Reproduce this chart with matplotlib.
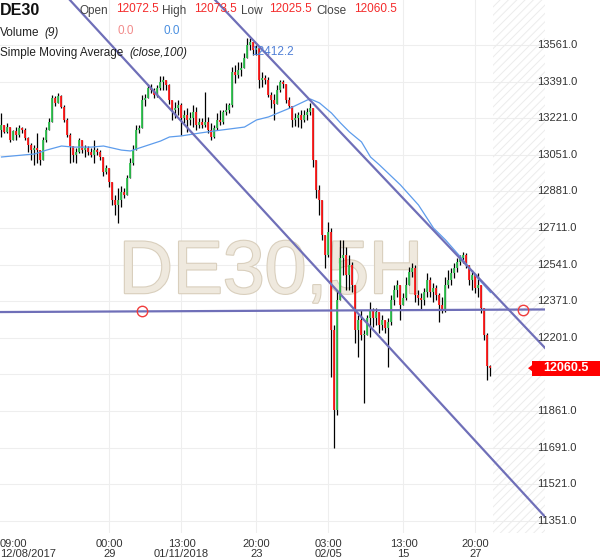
import numpy as np
import matplotlib.pyplot as plt
import matplotlib.patheffects as pe
from matplotlib.patches import Rectangle, Polygon

plt.rcParams['font.family'] = ['Liberation Sans', 'DejaVu Sans']
plt.rcParams['hatch.linewidth'] = 0.7

# DE30 5H candles (oldest first)
first_open = 13166
closes = [
    13190, 13157, 13180, 13120, 13162, 13143, 13176, 13166, 13129, 13097,
    13073, 13083, 13073, 13027, 13120, 13166, 13204, 13315, 13292, 13324,
    13273, 13213, 13143, 13092, 13050, 13064, 13120, 13073, 13083, 13064,
    13050, 13073, 13064, 13041, 12971, 12990, 12925, 12841, 12818, 12841,
    12879, 12865, 12944, 13013, 13073, 13166, 13176, 13306, 13315, 13361,
    13352, 13329, 13361, 13389, 13399, 13375, 13306, 13259, 13269, 13282,
    13222, 13236, 13213, 13222, 13250, 13190, 13204, 13190, 13204, 13166,
    13134, 13176, 13213, 13204, 13250, 13259, 13282, 13436, 13422, 13445,
    13454, 13501, 13561, 13575, 13538, 13547, 13399, 13408, 13399, 13329,
    13306, 13287, 13352, 13389, 13380, 13306, 13278, 13213, 13222, 13236,
    13213, 13236, 13250, 13269, 13027, 12888, 12841, 12679, 12586, 12693,
    12238, 11866, 12377, 12572, 12586, 12493, 12540, 12447, 12238, 12284,
    12215, 12215, 12294, 12331, 12294, 12321, 12261, 12284, 12247, 12275,
    12377, 12424, 12447, 12354, 12386, 12447, 12507, 12526, 12400, 12386,
    12377, 12414, 12470, 12414, 12433, 12400, 12354, 12331, 12447, 12470,
    12503, 12526, 12554, 12572, 12586, 12540, 12470, 12493, 12433, 12447,
    12340, 12215, 12072.5, 12060.5]
highs = [
    13245, 13180, 13199, 13176, 13166, 13180, 13190, 13180, 13176, 13134,
    13106, 13097, 13152, 13073, 13134, 13180, 13222, 13329, 13324, 13338,
    13329, 13282, 13222, 13152, 13092, 13083, 13129, 13120, 13097, 13092,
    13083, 13120, 13083, 13073, 13041, 13004, 12990, 12911, 12865, 12897,
    12906, 12897, 12957, 13036, 13097, 13190, 13190, 13329, 13334, 13380,
    13380, 13361, 13375, 13417, 13417, 13399, 13380, 13306, 13296, 13306,
    13292, 13259, 13269, 13250, 13282, 13273, 13222, 13222, 13343, 13227,
    13199, 13190, 13245, 13259, 13259, 13292, 13292, 13459, 13468, 13482,
    13482, 13524, 13594, 13594, 13570, 13561, 13538, 13436, 13422, 13412,
    13343, 13334, 13375, 13399, 13399, 13380, 13320, 13269, 13245, 13250,
    13259, 13259, 13269, 13292, 13269, 13013, 12911, 12841, 12642, 12739,
    12711, 12261, 12424, 12656, 12656, 12623, 12586, 12554, 12447, 12308,
    12331, 12238, 12308, 12368, 12340, 12340, 12317, 12308, 12275, 12294,
    12400, 12447, 12470, 12437, 12410, 12484, 12530, 12549, 12540, 12424,
    12410, 12433, 12503, 12484, 12456, 12447, 12410, 12391, 12484, 12516,
    12526, 12549, 12572, 12586, 12600, 12595, 12540, 12516, 12479, 12503,
    12410, 12340, 12224, 12073.5]
lows = [
    13134, 13152, 13152, 13111, 13143, 13120, 13134, 13152, 13120, 13064,
    13027, 13004, 13013, 13004, 13027, 13111, 13166, 13204, 13278, 13292,
    13269, 13204, 13134, 13013, 13018, 13013, 13060, 13060, 13041, 13050,
    13041, 13013, 13050, 13027, 12953, 12962, 12902, 12818, 12772, 12735,
    12809, 12851, 12888, 12971, 13004, 13097, 13152, 13176, 13278, 13329,
    13338, 13315, 13320, 13352, 13352, 13352, 13287, 13213, 13222, 13236,
    13143, 13199, 13157, 13190, 13180, 13166, 13176, 13176, 13180, 13152,
    13120, 13129, 13166, 13190, 13194, 13236, 13245, 13273, 13385, 13408,
    13417, 13477, 13505, 13538, 13515, 13515, 13361, 13366, 13380, 13320,
    13269, 13213, 13306, 13343, 13361, 13292, 13269, 13180, 13185, 13180,
    13176, 13204, 13213, 13236, 12995, 12851, 12772, 12656, 12526, 12577,
    12020, 11690, 11843, 12377, 12493, 12424, 12424, 12414, 12178, 12112,
    12191, 11899, 12215, 12205, 12252, 12261, 12224, 12238, 12224, 12066,
    12261, 12354, 12391, 12284, 12354, 12377, 12447, 12484, 12368, 12354,
    12331, 12354, 12391, 12391, 12368, 12377, 12275, 12317, 12321, 12433,
    12447, 12479, 12507, 12540, 12549, 12526, 12447, 12424, 12410, 12391,
    12317, 12191, 12006, 12025.5]

# simple moving average (100), sampled along the curve
ma_idx = [0, 11, 15, 20, 24, 30, 34, 40, 43, 46, 53, 56, 60, 66, 71, 76, 81,
          85, 89, 93, 97, 102, 103, 106, 110, 113, 116, 120, 123, 126, 133,
          139, 144, 148, 153, 158, 163]
ma_vals = [13041, 13055, 13073, 13092, 13087, 13087, 13092, 13073, 13069,
           13083, 13115, 13134, 13139, 13152, 13162, 13171, 13180, 13213,
           13227, 13250, 13273, 13306, 13310, 13292, 13245, 13199, 13157,
           13111, 13041, 13004, 12911, 12818, 12711, 12656, 12577, 12490,
           12412]

# drawn tools: two channel lines and a horizontal level
chan_low_x, chan_low_y = [22.8, 181.2], [13770, 11370]
chan_high_x, chan_high_y = [71.2, 181.2], [13770, 12154]
level_x, level_y = [-0.5, 181.2], [12321, 12333]
marker_x = [46.8, 173.8]

price_ticks = [13561, 13391, 13221, 13051, 12881, 12711, 12541, 12371,
               12201, 12031, 11861, 11691, 11521, 11351]
time_idx = [-0.5, 36, 60, 85, 109, 134, 158]
time_labels = ['09:00\n12/08/2017', '00:00\n29', '13:00\n01/11/2018',
               '20:00\n23', '03:00\n02/05', '13:00\n15', '20:00\n27']

W, H = 600, 558
fig = plt.figure(figsize=(W / 100, H / 100), dpi=100)
ax = fig.add_axes([0, 25 / H, 545 / W, 533 / H])
ax.set_xlim(-0.5, 181.17)
ax.set_ylim(11295, 13770)
ax.set_xticks([])
ax.set_yticks([])
for s in ax.spines.values():
    s.set_visible(False)

# grid
for p in price_ticks:
    ax.axhline(p, color='#eeeeee', lw=0.8, zorder=0)
for t in time_idx[1:]:
    ax.axvline(t, color='#eeeeee', lw=0.8, zorder=0)

# future zone
ax.axvspan(163.8, 181.17, facecolor='none', edgecolor='#ececec',
           hatch='////', lw=0, zorder=0)

# watermark
ax.text(0.497, 0.45, 'DE30,5H', transform=ax.transAxes, ha='center',
        va='baseline', fontsize=54, color='#efe9de', zorder=1,
        path_effects=[pe.withStroke(linewidth=1.6, foreground='#d9cfbd')])

# SMA value label in the header row
fig.text(251 / W, 1 - 55 / H, '12412.2', color='#4f7fd6', fontsize=8.5,
         va='baseline', zorder=1)

# candles
closes = np.array(closes, dtype=float)
opens = np.concatenate([[first_open], closes[:-1]])
highs = np.maximum.reduce([np.array(highs, dtype=float), opens, closes])
lows = np.minimum.reduce([np.array(lows, dtype=float), opens, closes])
x = np.arange(len(closes))
up = closes >= opens
ax.vlines(x, lows, highs, color='black', lw=0.9, zorder=3)
body_lo = np.minimum(opens, closes)
body_hi = np.maximum(opens, closes)
body_hi = np.where(body_hi - body_lo < 3, body_lo + 3, body_hi)
ax.vlines(x, body_lo, body_hi, colors=np.where(up, '#2fc24f', '#ff1a1a'),
          lw=1.3, zorder=4)

# moving average
ax.plot(ma_idx, ma_vals, color='#5d9cec', lw=0.9, zorder=5)

# drawn lines
line_col = '#6f6fb8'
ax.plot(chan_low_x, chan_low_y, color=line_col, lw=1.6, zorder=6)
ax.plot(chan_high_x, chan_high_y, color=line_col, lw=1.6, zorder=6)
ax.plot(level_x, level_y, color=line_col, lw=1.6, zorder=6)
ax.plot(marker_x, np.interp(marker_x, level_x, level_y), 'o', ms=7.5,
        mfc='none', mec='#f03c3c', mew=1.0, zorder=7)

# right price scale (the level under the last-price tag is hidden)
last = closes[-1]
for p in price_ticks:
    if abs(p - last) < 60:
        continue
    ax.text(537 / 545, p, f'{p:.1f}', transform=ax.get_yaxis_transform(),
            ha='left', va='center', fontsize=8, color='#333333', zorder=8)

# time labels
for t, lab in zip(time_idx, time_labels):
    ha = 'left' if t < 0 else 'center'
    ax.text(t, -0.012, lab, transform=ax.get_xaxis_transform(), ha=ha,
            multialignment=ha, va='top', fontsize=8, color='#333333',
            linespacing=0.95)

# last price tag
y_disp = ax.transData.transform((0, last))[1]
fig.patches.append(Rectangle((532 / W, (y_disp - 7.5) / H), 68 / W, 15 / H,
                             transform=fig.transFigure, fc='#ff0000',
                             ec='none', zorder=9))
fig.patches.append(Polygon([(528 / W, y_disp / H), (532 / W, (y_disp + 3) / H),
                            (532 / W, (y_disp - 3) / H)],
                           transform=fig.transFigure, fc='#ff0000',
                           ec='none', zorder=9))
fig.text(566 / W, y_disp / H, f'{last:.1f}', color='white',
         fontsize=9, fontweight='bold', ha='center', va='center', zorder=10)

# header
def hdr(xp, yp, s, **kw):
    fig.text(xp / W, 1 - yp / H, s, va='baseline', **kw)

hdr(0, 15, 'DE30', fontsize=11.5, fontweight='bold', color='#111111')
lab_col, val_col = '#444444', '#f42a2a'
hdr(80, 14, 'Open', fontsize=8.5, color=lab_col)
hdr(116, 11.5, '12072.5', fontsize=8.5, color=val_col)
hdr(162, 14, 'High', fontsize=8.5, color=lab_col)
hdr(194, 11.5, '12073.5', fontsize=8.5, color=val_col)
hdr(241, 14, 'Low', fontsize=8.5, color=lab_col)
hdr(269, 11.5, '12025.5', fontsize=8.5, color=val_col)
hdr(316, 14, 'Close', fontsize=8.5, color=lab_col)
hdr(354, 11.5, '12060.5', fontsize=8.5, color=val_col)
hdr(0, 36, 'Volume', fontsize=8.5, color='#222222')
hdr(44, 36, '(9)', fontsize=8.5, color='#222222', style='italic')
hdr(117, 34, '0.0', fontsize=8.5, color='#f28b8b')
hdr(163, 34, '0.0', fontsize=8.5, color='#4a8fe0')
hdr(0, 56, 'Simple Moving Average', fontsize=8.5, color='#222222')
hdr(129, 56, '(close,100)', fontsize=8.5, color='#222222', style='italic')

fig.savefig('out.png', dpi=100, facecolor='white')
